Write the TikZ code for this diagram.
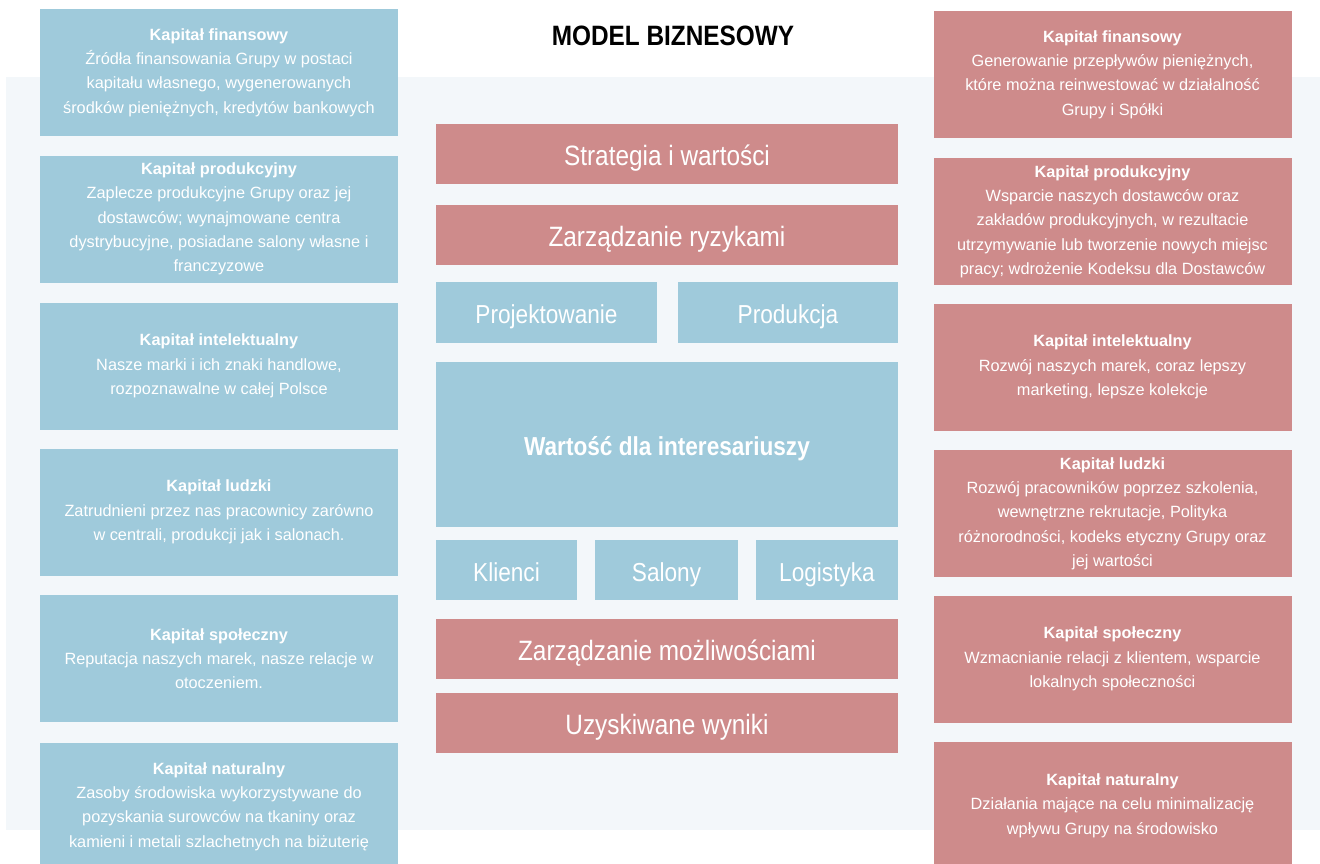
\documentclass[tikz,border=0pt]{standalone}
\usepackage{fontspec}
\setmainfont{Liberation Sans}
\newfontfamily\narrowfont{Liberation Sans}[FakeStretch=0.87]
\definecolor{boxblue}{RGB}{159,202,219}
\definecolor{boxpink}{RGB}{206,139,139}
\definecolor{bandgray}{RGB}{243,247,250}
\tikzset{
  capital/.style={inner sep=0pt, minimum width=358pt, minimum height=127pt,
                  align=center, text=white, font=\fontsize{16.3}{24.3}\selectfont},
  capblue/.style={capital, fill=boxblue},
  cappink/.style={capital, fill=boxpink},
  pillar/.style={inner sep=0pt, minimum height=60pt, text=white,
                 text height=26pt, text depth=4pt,
                 font=\narrowfont\fontsize{28}{30}\selectfont},
  pillarblue/.style={pillar, fill=boxblue, font=\narrowfont\fontsize{26}{30}\selectfont},
  pillarpink/.style={pillar, fill=boxpink, minimum width=462pt}
}
\begin{document}
\begin{tikzpicture}[x=1pt,y=-1pt]
                \useasboundingbox[fill=white] (0,0) rectangle (1320,863);
                \fill[bandgray] (6,77) rectangle (1320,830);
                    \node[anchor=base,font=\narrowfont\bfseries\fontsize{28}{30}\selectfont] (title) at (673,45) {MODEL BIZNESOWY};

                    % zasoby (left)
                    \node[capblue] (finL) at (219,72.5) {\textbf{Kapitał finansowy}\\Źródła finansowania Grupy w postaci\\kapitału własnego, wygenerowanych\\środków pieniężnych, kredytów bankowych};
                    \node[capblue] (prodL) at (219,219) {\textbf{Kapitał produkcyjny}\\Zaplecze produkcyjne Grupy oraz jej\\dostawców; wynajmowane centra\\dystrybucyjne, posiadane salony własne i\\franczyzowe};
                    \node[capblue] (intL) at (219,366) {\textbf{Kapitał intelektualny}\\Nasze marki i ich znaki handlowe,\\rozpoznawalne w całej Polsce};
                    \node[capblue] (ludL) at (219,512) {\textbf{Kapitał ludzki}\\Zatrudnieni przez nas pracownicy zarówno\\w centrali, produkcji jak i salonach.};
                    \node[capblue] (spoL) at (219,658.5) {\textbf{Kapitał społeczny}\\Reputacja naszych marek, nasze relacje w\\otoczeniem.};
                    \node[capblue] (natL) at (219,806.5) {\textbf{Kapitał naturalny}\\Zasoby środowiska wykorzystywane do\\pozyskania surowców na tkaniny oraz\\kamieni i metali szlachetnych na biżuterię};

                    % efekty (right)
                    \node[cappink] (finR) at (1112.5,74.5) {\textbf{Kapitał finansowy}\\Generowanie przepływów pieniężnych,\\które można reinwestować w działalność\\Grupy i Spółki};
                    \node[cappink] (prodR) at (1112.5,221.5) {\textbf{Kapitał produkcyjny}\\Wsparcie naszych dostawców oraz\\zakładów produkcyjnych, w rezultacie\\utrzymywanie lub tworzenie nowych miejsc\\pracy; wdrożenie Kodeksu dla Dostawców};
                    \node[cappink] (intR) at (1112.5,367) {\textbf{Kapitał intelektualny}\\Rozwój naszych marek, coraz lepszy\\marketing, lepsze kolekcje};
                    \node[cappink] (ludR) at (1112.5,513.5) {\textbf{Kapitał ludzki}\\Rozwój pracowników poprzez szkolenia,\\wewnętrzne rekrutacje, Polityka\\różnorodności, kodeks etyczny Grupy oraz\\jej wartości};
                    \node[cappink] (spoR) at (1112.5,659) {\textbf{Kapitał społeczny}\\Wzmacnianie relacji z klientem, wsparcie\\lokalnych społeczności};
                    \node[cappink] (natR) at (1112.5,805.5) {\textbf{Kapitał naturalny}\\Działania mające na celu minimalizację\\wpływu Grupy na środowisko};

                    % model
                    \node[pillarpink] (strat) at (667,154) {Strategia i wartości};
                    \node[pillarpink] (risk) at (667,235) {Zarządzanie ryzykami};
                    \node[pillarblue,minimum width=221pt,minimum height=61pt] (design) at (546.5,312.5) {Projektowanie};
                    \node[pillarblue,minimum width=220pt,minimum height=61pt] (prod) at (788,312.5) {Produkcja};
                    \node[pillar,fill=boxblue,minimum width=462pt,minimum height=165pt,font=\narrowfont\bfseries\fontsize{26}{30}\selectfont] (value) at (667,444.5) {Wartość dla interesariuszy};
                    \node[pillarblue,minimum width=141pt] (clients) at (506.5,570) {Klienci};
                    \node[pillarblue,minimum width=143pt] (shops) at (666.5,570) {Salony};
                    \node[pillarblue,minimum width=142pt] (logist) at (827,570) {Logistyka};
                    \node[pillarpink] (opport) at (667,649) {Zarządzanie możliwościami};
                    \node[pillarpink] (results) at (667,723) {Uzyskiwane wyniki};
            \end{tikzpicture}
\end{document}
